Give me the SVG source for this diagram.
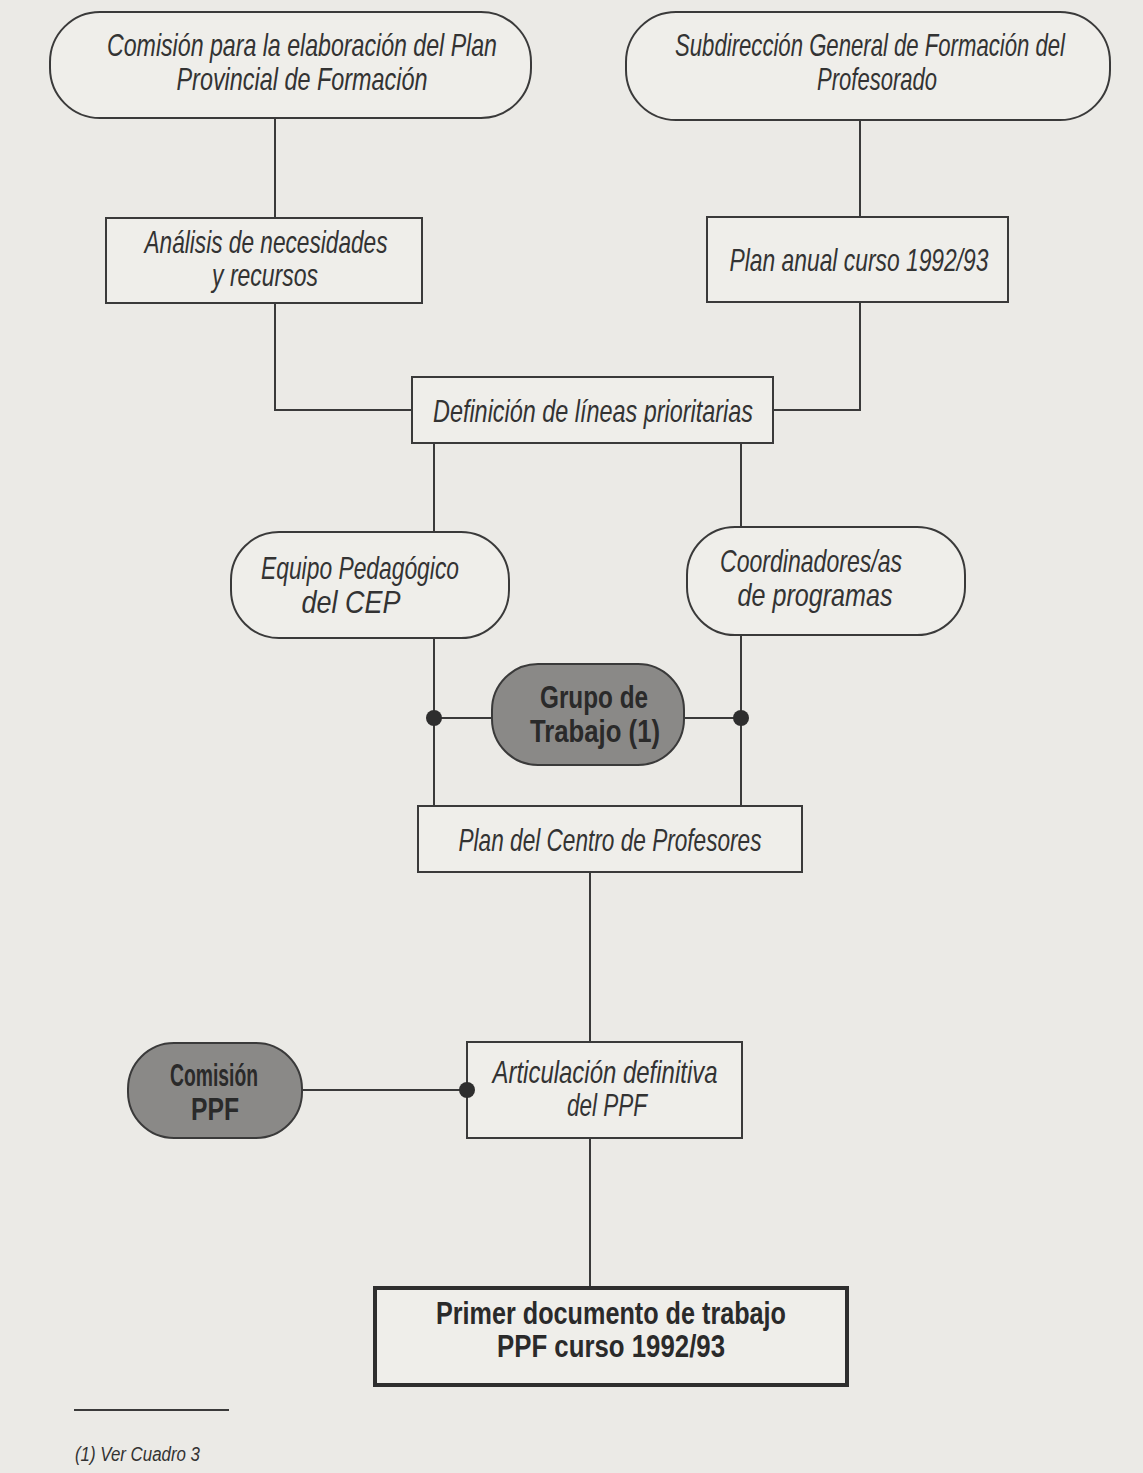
<svg xmlns="http://www.w3.org/2000/svg" width="1143" height="1473" viewBox="0 0 1143 1473">
<style>
.bg{fill:#ebeae6}
.n{fill:#efeeea;stroke:#3a3a3a;stroke-width:2}
.g{fill:#8a8987;stroke:#3a3a3a;stroke-width:2}
.thick{fill:#efeeea;stroke:#2e2e2e;stroke-width:4}
.e{fill:none;stroke:#3a3a3a;stroke-width:2}
.dot{fill:#2e2e2e}
.t{font-family:"Liberation Sans",Arial,sans-serif;font-style:italic;font-size:32px;fill:#333;text-anchor:middle}
.b{font-family:"Liberation Sans",Arial,sans-serif;font-weight:bold;font-size:32px;fill:#2a2a2a;text-anchor:middle}
.f{font-family:"Liberation Sans",Arial,sans-serif;font-style:italic;font-size:20px;fill:#333}
</style>
<rect class="bg" x="0" y="0" width="1143" height="1473"/>
<g id="connectors">
<path class="e" d="M275,118 V218 M275,303 V410 H412"/>
<path class="e" d="M860,120 V217 M860,302 V410 H773"/>
<path class="e" d="M434,443 V532 M741,443 V527"/>
<path class="e" d="M434,638 V806 M741,635 V806"/>
<path class="e" d="M434,718 H492 M684,718 H741"/>
<path class="e" d="M590,872 V1042 M590,1138 V1288"/>
<path class="e" d="M302,1090 H467"/>
</g>
<g id="n-comision">
<rect class="n" x="50" y="12" width="481" height="106" rx="50"/>
<text class="t" x="302" y="56" textLength="390" lengthAdjust="spacingAndGlyphs">Comisión para la elaboración del Plan</text>
<text class="t" x="302" y="90" textLength="251" lengthAdjust="spacingAndGlyphs">Provincial de Formación</text>
</g>
<g id="n-subdireccion">
<rect class="n" x="626" y="12" width="484" height="108" rx="50"/>
<text class="t" transform="translate(870,56) scale(0.7,1)" x="0" y="0" textLength="557" lengthAdjust="spacingAndGlyphs">Subdirección General de Formación del</text>
<text class="t" x="877" y="90" textLength="120" lengthAdjust="spacingAndGlyphs">Profesorado</text>
</g>
<g id="n-analisis">
<rect class="n" x="106" y="218" width="316" height="85"/>
<text class="t" x="266" y="253" textLength="243" lengthAdjust="spacingAndGlyphs">Análisis de necesidades</text>
<text class="t" x="265" y="286" textLength="106" lengthAdjust="spacingAndGlyphs">y recursos</text>
</g>
<g id="n-plananual">
<rect class="n" x="707" y="217" width="301" height="85"/>
<text class="t" x="859" y="271" textLength="259" lengthAdjust="spacingAndGlyphs">Plan anual curso 1992/93</text>
</g>
<g id="n-definicion">
<rect class="n" x="412" y="377" width="361" height="66"/>
<text class="t" x="593" y="422" textLength="320" lengthAdjust="spacingAndGlyphs">Definición de líneas prioritarias</text>
</g>
<g id="n-equipo">
<rect class="n" x="231" y="532" width="278" height="106" rx="48"/>
<text class="t" x="360" y="579" textLength="198" lengthAdjust="spacingAndGlyphs">Equipo Pedagógico</text>
<text class="t" x="351" y="613" textLength="99" lengthAdjust="spacingAndGlyphs">del CEP</text>
</g>
<g id="n-coordinadores">
<rect class="n" x="687" y="527" width="278" height="108" rx="48"/>
<text class="t" x="811" y="572" textLength="182" lengthAdjust="spacingAndGlyphs">Coordinadores/as</text>
<text class="t" x="815" y="606" textLength="155" lengthAdjust="spacingAndGlyphs">de programas</text>
</g>
<g id="n-grupo">
<rect class="g" x="492" y="664" width="192" height="101" rx="46"/>
<text class="b" x="594" y="708" textLength="108" lengthAdjust="spacingAndGlyphs">Grupo de</text>
<text class="b" x="595" y="742" textLength="130" lengthAdjust="spacingAndGlyphs">Trabajo (1)</text>
</g>
<g id="n-plancentro">
<rect class="n" x="418" y="806" width="384" height="66"/>
<text class="t" x="610" y="851" textLength="303" lengthAdjust="spacingAndGlyphs">Plan del Centro de Profesores</text>
</g>
<g id="n-articulacion">
<rect class="n" x="467" y="1042" width="275" height="96"/>
<text class="t" x="605" y="1083" textLength="225" lengthAdjust="spacingAndGlyphs">Articulación definitiva</text>
<text class="t" x="607" y="1116" textLength="80" lengthAdjust="spacingAndGlyphs">del PPF</text>
</g>
<g id="n-comisionppf">
<rect class="g" x="128" y="1043" width="174" height="95" rx="46"/>
<text class="b" x="214" y="1086" textLength="88" lengthAdjust="spacingAndGlyphs">Comisión</text>
<text class="b" x="215" y="1120" textLength="48" lengthAdjust="spacingAndGlyphs">PPF</text>
</g>
<g id="n-primer">
<rect class="thick" x="375" y="1288" width="472" height="97"/>
<text class="b" x="611" y="1324" textLength="350" lengthAdjust="spacingAndGlyphs">Primer documento de trabajo</text>
<text class="b" x="611" y="1357" textLength="228" lengthAdjust="spacingAndGlyphs">PPF curso 1992/93</text>
</g>
<g id="junctions">
<circle class="dot" cx="434" cy="718" r="8"/>
<circle class="dot" cx="741" cy="718" r="8"/>
<circle class="dot" cx="467" cy="1090" r="8"/>
</g>
<g id="footnote">
<line class="e" x1="74" y1="1410" x2="229" y2="1410" stroke-width="1.5"/>
<text class="f" x="75" y="1461" textLength="125" lengthAdjust="spacingAndGlyphs">(1) Ver Cuadro 3</text>
</g>
</svg>
